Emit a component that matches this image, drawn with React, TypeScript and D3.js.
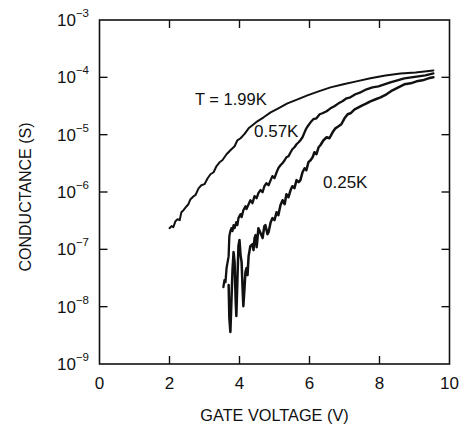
import React from "react";
import * as d3 from "d3";

// Gate voltage (V) and conductance (S)
const v199 = [2.00,2.06,2.11,2.17,2.23,2.29,2.34,2.40,2.49,2.54,2.60,2.69,2.74,2.83,2.91,3.00,3.09,3.17,3.26,3.34,3.43,3.51,3.63,3.74,3.86,3.94,4.03,4.14,4.26,4.37,4.51,4.69,4.89,5.11,5.37,5.66,5.94,6.26,6.60,6.97,7.34,7.74,8.17,8.60,9.03,9.54];
const g199 = [2.34e-7,2.54e-7,2.44e-7,3.10e-7,3.36e-7,3.22e-7,4.45e-7,4.82e-7,5.65e-7,6.12e-7,7.48e-7,8.45e-7,8.79e-7,1.16e-6,1.31e-6,1.37e-6,1.74e-6,2.04e-6,2.21e-6,2.81e-6,3.30e-6,3.58e-6,4.55e-6,5.35e-6,6.28e-6,7.98e-6,8.65e-6,1.02e-5,1.29e-5,1.46e-5,1.71e-5,2.01e-5,2.45e-5,2.88e-5,3.52e-5,4.13e-5,4.85e-5,5.70e-5,6.68e-5,7.55e-5,8.51e-5,9.6e-5,1.08e-4,1.17e-4,1.22e-4,1.32e-4];

const v057 = [3.54,3.57,3.60,3.63,3.66,3.69,3.70,3.71,3.74,3.77,3.80,3.83,3.86,3.91,3.94,3.97,4.03,4.06,4.11,4.17,4.20,4.26,4.31,4.37,4.43,4.49,4.54,4.60,4.66,4.71,4.77,4.83,4.89,4.94,5.00,5.06,5.11,5.17,5.23,5.29,5.34,5.40,5.46,5.51,5.57,5.63,5.69,5.74,5.80,5.86,5.91,5.97,6.03,6.11,6.20,6.29,6.37,6.49,6.60,6.71,6.83,6.94,7.06,7.17,7.31,7.46,7.63,7.80,7.97,8.14,8.31,8.51,8.71,8.91,9.11,9.31,9.54];
const g057 = [2.20e-8,2.91e-8,2.68e-8,4.70e-8,5.98e-8,7.61e-8,1.18e-7,1.70e-7,2.08e-7,2.34e-7,2.08e-7,2.64e-7,2.34e-7,2.98e-7,2.64e-7,3.50e-7,
  4.11e-7,3.64e-7,4.82e-7,5.66e-7,5.02e-7,6.13e-7,7.20e-7,6.38e-7,8.45e-7,7.80e-7,9.53e-7,1.08e-6,9.92e-7,1.26e-6,1.42e-6,1.31e-6,1.61e-6,1.89e-6,
  1.74e-6,2.21e-6,2.60e-6,2.93e-6,3.18e-6,3.58e-6,4.04e-6,4.21e-6,4.94e-6,5.57e-6,6.03e-6,6.81e-6,7.38e-6,7.99e-6,9.01e-6,1.10e-5,1.29e-5,1.46e-5,
  1.64e-5,1.86e-5,1.93e-5,2.27e-5,2.36e-5,2.56e-5,2.88e-5,3.13e-5,3.52e-5,3.82e-5,
  4.31e-5,4.48e-5,5.06e-5,5.48e-5,6.18e-5,6.70e-5,6.97e-5,
  7.55e-5,8.18e-5,8.87e-5,9.61e-5,1.00e-4,
  1.04e-4,1.08e-4,1.17e-4];

const v025 = [3.69,3.71,3.74,3.77,3.80,3.83,3.86,3.89,3.91,3.94,3.97,4.00,4.03,4.06,4.09,4.11,4.14,4.17,4.20,4.23,4.26,4.29,4.31,
  4.37,4.40,4.43,4.46,4.49,4.51,4.54,
  4.60,4.66,4.71,4.74,4.80,4.83,4.89,4.94,5.00,5.06,5.11,5.17,5.23,5.29,5.34,5.40,5.46,5.51,5.57,5.63,5.69,5.74,
  5.80,5.86,5.91,5.97,6.03,6.09,6.14,6.20,6.26,6.31,
  6.40,6.49,6.57,6.66,6.74,6.83,6.91,7.00,7.09,7.17,
  7.29,7.40,7.51,7.63,7.74,
  7.89,8.03,8.20,8.37,8.54,8.71,8.89,9.06,9.23,9.40,9.54];
const g025 = [2.38e-8,6.33e-9,3.61e-9,1.30e-8,4.34e-8,8.94e-8,5.98e-8,1.30e-8,6.86e-9,2.91e-8,1.14e-7,1.45e-7,7.93e-8,5.98e-8,1.95e-8,1.02e-8,1.95e-8,4.01e-8,4.70e-8,3.55e-8,7.61e-8,9.69e-8,1.14e-7,
  1.23e-7,9.69e-8,1.57e-7,1.77e-7,1.09e-7,1.45e-7,2.34e-7,
  1.92e-7,1.57e-7,2.54e-7,2.64e-7,1.84e-7,1.99e-7,2.98e-7,3.50e-7,3.23e-7,4.45e-7,3.94e-7,5.89e-7,7.20e-7,6.13e-7,9.16e-7,8.12e-7,1.08e-6,1.26e-6,1.17e-6,1.61e-6,1.48e-6,1.61e-6,
  2.21e-6,2.60e-6,2.40e-6,3.31e-6,3.58e-6,4.04e-6,4.94e-6,4.56e-6,6.03e-6,6.54e-6,
  7.99e-6,9.01e-6,8.66e-6,1.10e-5,1.29e-5,1.40e-5,1.52e-5,1.93e-5,2.27e-5,2.36e-5,
  2.77e-5,3.00e-5,3.25e-5,3.52e-5,3.82e-5,
  4.14e-5,4.48e-5,5.06e-5,5.94e-5,6.70e-5,7.55e-5,7.86e-5,8.52e-5,8.87e-5,9.61e-5,1.00e-4];

const xTicks = [0, 2, 4, 6, 8, 10];
const yTickExps = [-3, -4, -5, -6, -7, -8, -9];

const seriesLabels = ["T = 1.99K", "0.57K", "0.25K"];

const FONT = "'Liberation Sans', Arial, Helvetica, sans-serif";

export default function App() {
  const W = 459, H = 427;
  const left = 99.5, right = 449.5, top = 20, bottom = 364;
  const x = d3.scaleLinear().domain([0, 10]).range([left, right]);
  const y = d3.scaleLog().domain([1e-9, 1e-3]).range([bottom, top]);

  const line = d3.line<[number, number]>()
    .x((d) => x(d[0]))
    .y((d) => y(d[1]));

  const mk = (vs: number[], gs: number[]) =>
    vs.map((v, i) => [v, gs[i]] as [number, number]);

  const series = [
    { d: mk(v199, g199), w: 2.0 },
    { d: mk(v057, g057), w: 2.3 },
    { d: mk(v025, g025), w: 2.5 },
  ];

  const tickLen = 8;

  return (
    <svg width={W} height={H} style={{ position: "absolute", left: 0, top: 0, background: "#fff" }}
      fontFamily={FONT}>
      <rect x={0} y={0} width={W} height={H} fill="#fff" />
      {/* frame */}
      <rect x={left} y={top} width={right - left} height={bottom - top} fill="none" stroke="#111" strokeWidth={1.6} />
      {/* x ticks bottom & top */}
      {xTicks.slice(1, -1).map((t) => (
        <g key={"xt" + t}>
          <line x1={x(t)} x2={x(t)} y1={bottom} y2={bottom - tickLen} stroke="#111" strokeWidth={1.4} />
          <line x1={x(t)} x2={x(t)} y1={top} y2={top + tickLen} stroke="#111" strokeWidth={1.4} />
        </g>
      ))}
      {/* y ticks left & right */}
      {yTickExps.slice(1, -1).map((e) => (
        <g key={"yt" + e}>
          <line x1={left} x2={left + tickLen} y1={y(Math.pow(10, e))} y2={y(Math.pow(10, e))} stroke="#111" strokeWidth={1.4} />
          <line x1={right} x2={right - tickLen} y1={y(Math.pow(10, e))} y2={y(Math.pow(10, e))} stroke="#111" strokeWidth={1.4} />
        </g>
      ))}
      {/* x tick labels */}
      {xTicks.map((t) => (
        <text key={"xl" + t} x={x(t)} y={389} textAnchor="middle" fontSize={17} fill="#111">{t}</text>
      ))}
      {/* y tick labels */}
      {yTickExps.map((e) => (
        <text key={"yl" + e} x={89} y={y(Math.pow(10, e)) + 6} textAnchor="end" fontSize={17} fill="#111">
          10<tspan dy={-9} fontSize={11.5}>{"\u2212" + Math.abs(e)}</tspan>
        </text>
      ))}
      {/* axis titles */}
      <text x={(left + right) / 2} y={421} textAnchor="middle" fontSize={16.3} fill="#111">GATE VOLTAGE  (V)</text>
      <text transform={`translate(31,197) rotate(-90)`} textAnchor="middle" fontSize={16} fill="#111">CONDUCTANCE  (S)</text>
      {/* curves */}
      {series.map((s, i) => (
        <path key={"s" + i} d={line(s.d) || ""} fill="none" stroke="#111" strokeWidth={s.w}
          strokeLinejoin="round" strokeLinecap="round" />
      ))}
      {/* curve labels */}
      <text x={195} y={105} fontSize={16.5} fill="#111" xmlSpace="preserve">{seriesLabels[0]}</text>
      <text x={254} y={137} fontSize={17} fill="#111">{seriesLabels[1]}</text>
      <text x={323} y={188} fontSize={17} fill="#111">{seriesLabels[2]}</text>
    </svg>
  );
}
